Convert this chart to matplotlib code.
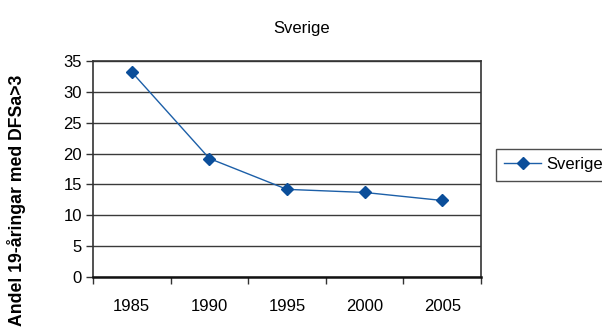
import matplotlib
matplotlib.use("Agg")
import matplotlib.pyplot as plt
import numpy as np

plt.rcParams['font.family'] = ['Liberation Sans', 'DejaVu Sans']

# data
years = ["1985", "1990", "1995", "2000", "2005"]
sverige = [33.2, 19.2, 14.2, 13.7, 12.4]

LINE_COLOR = "#1C5FA8"
MARKER_COLOR = "#0B4E9A"
GRID_COLOR = "#3a3a3a"

fig = plt.figure(figsize=(6.02, 3.33), dpi=100)
ax = fig.add_axes([93 / 602, 56 / 333, (481 - 93) / 602, (277 - 61) / 333])

index = np.arange(len(years))
ax.plot(index, sverige, color=LINE_COLOR, linewidth=1.0,
        marker="D", markersize=6, markerfacecolor=MARKER_COLOR,
        markeredgecolor=MARKER_COLOR, label="Sverige")

# axes
ax.set_xlim(-0.5, len(years) - 0.5)
ax.set_ylim(0, 35)
ax.set_yticks(range(0, 36, 5))
ax.set_xticks(index)
ax.set_xticklabels(years)
ax.set_xticks(np.arange(-0.5, len(years), 1), minor=True)
ax.tick_params(axis="x", which="major", length=0, pad=16, labelsize=12)
ax.tick_params(axis="x", which="minor", length=5, width=1.0, color="#333333")
ax.tick_params(axis="y", length=5, width=1.0, color="#333333", labelsize=12, pad=3)

ax.grid(axis="y", color=GRID_COLOR, linewidth=1.0)
ax.set_axisbelow(True)
for side in ["left", "right", "top"]:
  ax.spines[side].set_color("#333333")
  ax.spines[side].set_linewidth(1.2)
ax.spines["bottom"].set_color("#111111")
ax.spines["bottom"].set_linewidth(1.8)

# titles
fig.text(302 / 602, 1 - 28 / 333, "Sverige", ha="center", va="center", fontsize=12)
fig.text(17 / 602, 1 - 200 / 333, "Andel 19-åringar med DFSa>3", rotation=90,
         ha="center", va="center", fontsize=12.7, fontweight="bold")

leg = fig.legend(loc="upper left", bbox_to_anchor=(496 / 602, 1 - 149 / 333),
                 fontsize=12, fancybox=False, frameon=True, handlelength=2.2,
                 borderpad=0.5, borderaxespad=0, handletextpad=0.3)
leg.get_frame().set_edgecolor("#222222")
leg.get_frame().set_linewidth(1.0)

fig.savefig("out.png", dpi=100)
